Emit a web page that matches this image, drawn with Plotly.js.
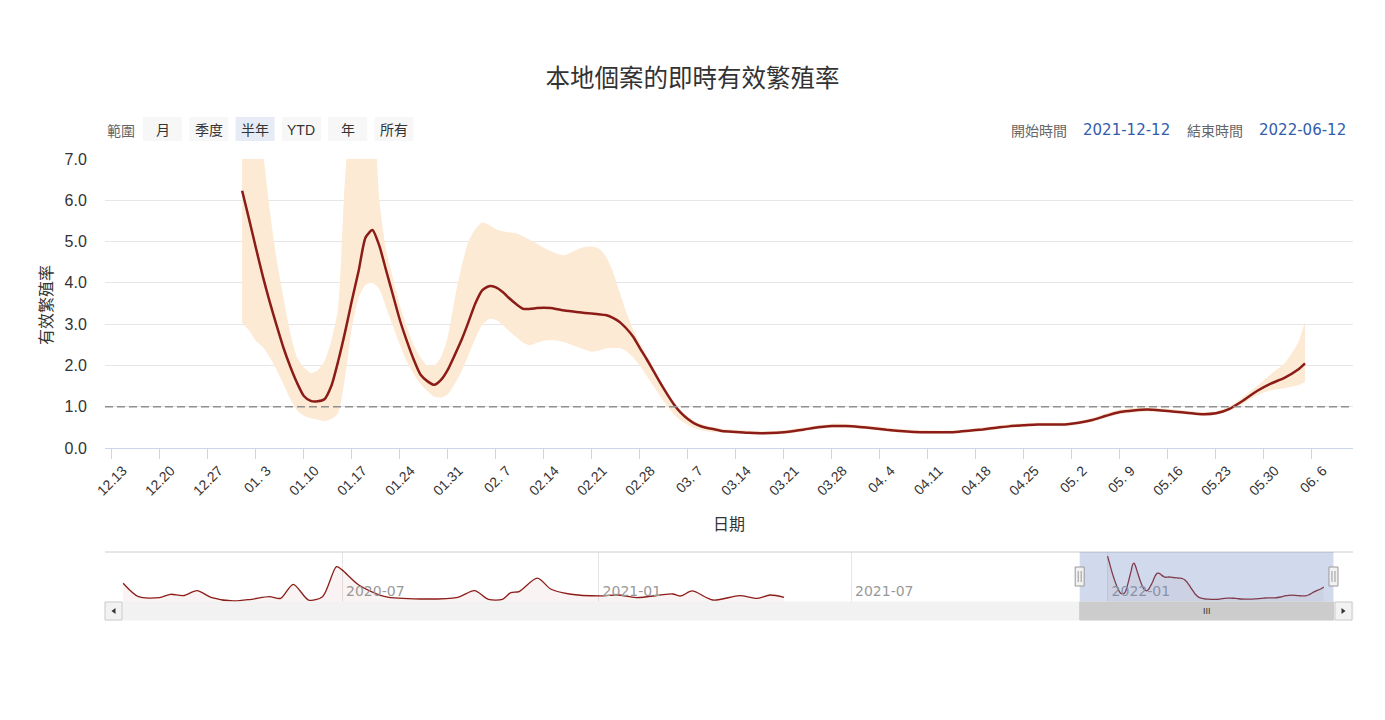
<!DOCTYPE html>
<html><head><meta charset="utf-8">
<script src="https://cdn.plot.ly/plotly-3.0.1.min.js"></script>
<style>html,body{margin:0;padding:0;background:#fff}#chart{width:1385px;height:720px}</style>
</head><body><div id="chart"></div><script>
// ---------- data ----------
const dates = [
 '2022-01-01','2022-01-02','2022-01-03','2022-01-04','2022-01-05','2022-01-06','2022-01-07','2022-01-08','2022-01-09','2022-01-10',
 '2022-01-11','2022-01-12','2022-01-13','2022-01-14','2022-01-15','2022-01-16','2022-01-17','2022-01-18','2022-01-19','2022-01-20',
 '2022-01-21','2022-01-22','2022-01-23','2022-01-24','2022-01-25','2022-01-26','2022-01-27','2022-01-28','2022-01-29','2022-01-30','2022-01-31',
 '2022-02-01','2022-02-02','2022-02-03','2022-02-04','2022-02-05','2022-02-06','2022-02-07','2022-02-08','2022-02-09','2022-02-10',
 '2022-02-11','2022-02-12','2022-02-13','2022-02-14','2022-02-15','2022-02-16','2022-02-17','2022-02-18','2022-02-19','2022-02-20',
 '2022-02-21','2022-02-22','2022-02-23','2022-02-24','2022-02-25','2022-02-26','2022-02-27','2022-02-28',
 '2022-03-01','2022-03-02','2022-03-03','2022-03-04','2022-03-05','2022-03-06','2022-03-07','2022-03-08','2022-03-09','2022-03-10','2022-03-11',
 '2022-03-12','2022-03-14','2022-03-16','2022-03-18','2022-03-20','2022-03-22','2022-03-24','2022-03-26','2022-03-28','2022-03-30',
 '2022-04-01','2022-04-03','2022-04-05','2022-04-07','2022-04-09','2022-04-11','2022-04-13','2022-04-15','2022-04-17','2022-04-19',
 '2022-04-21','2022-04-23','2022-04-25','2022-04-27','2022-04-29','2022-05-01','2022-05-03','2022-05-05','2022-05-07','2022-05-09',
 '2022-05-11','2022-05-13','2022-05-15','2022-05-17','2022-05-19','2022-05-21','2022-05-23','2022-05-25','2022-05-27','2022-05-29',
 '2022-05-31','2022-06-02','2022-06-04','2022-06-05'
];
const rt = [
 6.23,5.55,4.85,4.17,3.55,2.98,2.44,1.98,1.58,1.26,1.14,1.13,1.18,1.50,2.10,2.80,3.57,4.30,5.10,5.28,4.90,4.30,3.70,3.10,2.60,2.15,1.78,1.62,1.53,1.65,1.90,
 2.25,2.62,3.05,3.50,3.82,3.92,3.89,3.78,3.62,3.48,3.37,3.37,3.39,3.40,3.39,3.36,3.33,3.31,3.29,3.27,3.26,3.24,3.22,3.16,3.06,2.90,2.70,2.42,
 2.15,1.86,1.57,1.30,1.05,0.85,0.70,0.59,0.52,0.48,0.45,
 0.41,0.39,0.37,0.36,0.37,0.40,0.45,0.50,0.53,0.53,0.51,0.48,0.44,0.41,0.39,0.38,0.38,0.39,0.42,0.45,
 0.49,0.53,0.55,0.57,0.57,0.57,0.61,0.68,0.78,0.87,0.91,0.93,0.91,0.88,0.85,0.82,0.84,0.95,1.15,1.38,
 1.56,1.70,1.90,2.05
];
const rtLower = [
 3.03,2.85,2.60,2.45,2.20,1.90,1.55,1.20,0.92,0.78,0.72,0.69,0.65,0.70,0.85,1.70,2.90,3.65,3.95,4.00,3.85,3.40,2.95,2.50,2.10,1.80,1.55,1.38,1.24,1.22,1.30,
 1.55,1.85,2.25,2.65,2.98,3.12,3.10,2.98,2.82,2.68,2.55,2.49,2.55,2.60,2.61,2.60,2.56,2.50,2.44,2.38,2.33,2.36,2.41,2.42,2.42,2.35,2.20,2.00,
 1.75,1.50,1.25,1.02,0.82,0.66,0.56,0.48,0.43,0.40,0.38,
 0.37,0.35,0.33,0.32,0.33,0.36,0.41,0.46,0.49,0.49,0.47,0.44,0.40,0.37,0.35,0.34,0.34,0.35,0.38,0.41,
 0.45,0.49,0.51,0.53,0.53,0.53,0.57,0.63,0.73,0.82,0.86,0.88,0.87,0.84,0.81,0.78,0.80,0.90,1.08,1.28,
 1.40,1.45,1.52,1.59
];
const rtUpper = [
 8,8,8,7.2,5.8,4.6,3.66,2.80,2.20,1.95,1.82,1.88,2.10,2.60,3.40,6.50,8,8,8,8,6.0,4.79,4.10,3.45,2.94,2.50,2.20,2.00,2.00,2.20,2.70,
 3.60,4.40,5.00,5.30,5.46,5.40,5.30,5.25,5.22,5.20,5.12,5.04,4.95,4.85,4.77,4.70,4.67,4.74,4.82,4.87,4.88,4.83,4.65,4.30,3.80,3.30,2.88,2.55,
 2.25,1.95,1.62,1.35,1.10,0.90,0.76,0.65,0.58,0.53,0.50,
 0.46,0.44,0.42,0.41,0.42,0.45,0.50,0.55,0.59,0.58,0.56,0.53,0.49,0.46,0.44,0.43,0.42,0.43,0.46,0.50,
 0.54,0.58,0.60,0.61,0.61,0.61,0.65,0.73,0.84,0.93,0.97,0.98,0.96,0.93,0.90,0.87,0.89,1.01,1.24,1.50,
 1.78,2.05,2.55,3.07
];
// navigator: earlier history
const navDates = ['2020-01-26','2020-02-06','2020-02-21','2020-02-29','2020-03-09','2020-03-19','2020-03-29','2020-04-14','2020-04-27','2020-05-10',
 '2020-05-18','2020-05-27','2020-06-07','2020-06-17','2020-06-27','2020-07-01','2020-07-13','2020-08-01','2020-08-27','2020-09-22',
 '2020-10-04','2020-10-14','2020-10-24','2020-10-30','2020-11-05','2020-11-18','2020-11-28','2020-12-11','2021-01-02','2021-01-15',
 '2021-01-28','2021-02-23','2021-03-01','2021-03-09','2021-03-24','2021-04-12','2021-04-25','2021-05-04','2021-05-14'];
const navValues = [2.55,0.72,0.59,1.05,0.86,1.54,0.64,0.14,0.37,0.72,
 0.50,2.41,0.27,0.72,4.81,4.37,2.32,0.72,0.41,0.64,
 1.55,0.37,0.37,1.27,1.41,3.24,1.73,1.09,0.82,0.95,
 0.59,1.09,0.82,1.50,0.27,0.86,0.50,0.95,0.64];
const thresholdValue = 1.0;
const rangeButtons = ['月','季度','半年','YTD','年','所有'];
const selectedButton = 2;
const rangeStart = '2021-12-12', rangeEnd = '2022-06-12';
const navRange = ['2020-01-13','2022-06-26'];

// ---------- text ----------
const titleText = '本地個案的即時有效繁殖率';
const yTitle = '有效繁殖率', xTitle = '日期';

// ---------- layout helpers ----------
const W = 1385, H = 720, ML = 105, MR = 32, MT = 159, MB = 100;
const PW = W - ML - MR, PH = H - MT - MB;
const X = px => (px - ML) / PW;
const Y = py => (H - MB - py) / PH;
const FONT = "'Liberation Sans', Arial, 'Noto Sans CJK TC', sans-serif";
const CJK = "'Noto Sans CJK TC', 'Liberation Sans', sans-serif";
const lineColor = '#8c1c17';
const bandColor = 'rgb(252,234,212)';

const traces = [
  {x: dates, y: rtLower, type:'scatter', mode:'lines', line:{width:0, shape:'spline', smoothing:0.6}, hoverinfo:'skip', xaxis:'x', yaxis:'y'},
  {x: dates, y: rtUpper, type:'scatter', mode:'lines', fill:'tonexty', fillcolor: bandColor, line:{width:0, shape:'spline', smoothing:0.6}, hoverinfo:'skip', xaxis:'x', yaxis:'y'},
  {x: dates, y: rt, type:'scatter', mode:'lines', line:{color: lineColor, width:2.5, shape:'spline', smoothing:0.6}, xaxis:'x', yaxis:'y'},
  {x: navDates, y: navValues, type:'scatter', mode:'lines', fill:'tozeroy', fillcolor:'rgba(139,26,26,0.05)', line:{color: lineColor, width:1.3, shape:'spline', smoothing:0.8}, xaxis:'x2', yaxis:'y2'},
  {x: dates, y: rt, type:'scatter', mode:'lines', fill:'tozeroy', fillcolor:'rgba(139,26,26,0.05)', line:{color: lineColor, width:1.3, shape:'spline', smoothing:0.8}, xaxis:'x2', yaxis:'y2'}
];

const shapes = [
  {type:'line', xref:'x domain', x0:0, x1:1, yref:'y', y0:thresholdValue, y1:thresholdValue, line:{color:'#8f8f8f', width:1.5, dash:'8px,4px'}, layer:'above'},
  {type:'line', xref:'paper', x0:0, x1:1, yref:'paper', y0:Y(552), y1:Y(552), line:{color:'#cccccc', width:1}},
  {type:'rect', xref:'x2', x0:rangeStart, x1:rangeEnd, yref:'paper', y0:Y(602), y1:Y(552), fillcolor:'rgba(102,133,194,0.3)', line:{width:0}, layer:'above'},
  {type:'rect', xref:'paper', x0:0, x1:1, yref:'paper', y0:Y(620), y1:Y(602), fillcolor:'#f2f2f2', line:{color:'#f2f2f2', width:1}},
  {type:'rect', xref:'x2', x0:rangeStart, x1:rangeEnd, yref:'paper', y0:Y(620), y1:Y(602), fillcolor:'#cccccc', line:{color:'#cccccc', width:1}},
  {type:'rect', xref:'paper', x0:X(105), x1:X(122), yref:'paper', y0:Y(620), y1:Y(602), fillcolor:'#f2f2f2', line:{color:'#cccccc', width:1}},
  {type:'rect', xref:'paper', x0:X(1335), x1:X(1352), yref:'paper', y0:Y(620), y1:Y(602), fillcolor:'#f2f2f2', line:{color:'#cccccc', width:1}},
  {type:'path', xref:'paper', yref:'paper', path:`M ${X(111.5)} ${Y(611)} L ${X(115.5)} ${Y(608)} L ${X(115.5)} ${Y(614)} Z`, fillcolor:'#333', line:{width:0}},
  {type:'path', xref:'paper', yref:'paper', path:`M ${X(1345.5)} ${Y(611)} L ${X(1341.5)} ${Y(608)} L ${X(1341.5)} ${Y(614)} Z`, fillcolor:'#333', line:{width:0}}
];
[rangeStart, rangeEnd].forEach(d => {
  shapes.push({type:'rect', xref:'x2', xsizemode:'pixel', xanchor:d, x0:-4.5, x1:4.5, yref:'paper', y0:Y(586), y1:Y(567), fillcolor:'#f2f2f2', line:{color:'#999999', width:1}, layer:'above'});
  [-1.5, 1.5].forEach(o => shapes.push({type:'line', xref:'x2', xsizemode:'pixel', xanchor:d, x0:o, x1:o, yref:'paper', y0:Y(582), y1:Y(571), line:{color:'#999999', width:1}, layer:'above'}));
});
const annotations = [];
rangeButtons.forEach((b, i) => {
  const left = 143 + i * 46.3;
  shapes.push({type:'rect', xref:'paper', yref:'paper', x0:X(left), x1:X(left + 39), y0:Y(141), y1:Y(117), fillcolor: i === selectedButton ? '#e6ebf5' : '#f7f7f7', line:{width:0}});
  annotations.push({xref:'paper', yref:'paper', x:X(left + 19.5), y:Y(129.5), text:b, showarrow:false, xanchor:'center', yanchor:'middle', font:{family:FONT, size:14, color:'#333333'}});
});
annotations.push(
  {xref:'paper', yref:'paper', x:X(121), y:Y(129.5), text:'範圍', showarrow:false, xanchor:'center', yanchor:'middle', font:{family:CJK, size:14, color:'#666666'}},
  {xref:'paper', yref:'paper', x:X(1039), y:Y(129.5), text:'開始時間', showarrow:false, xanchor:'center', yanchor:'middle', font:{family:CJK, size:14, color:'#666666'}},
  {xref:'paper', yref:'paper', x:X(1126.5), y:Y(129.5), text:rangeStart, showarrow:false, xanchor:'center', yanchor:'middle', font:{family:"'DejaVu Sans', sans-serif", size:15, color:'#335cad'}},
  {xref:'paper', yref:'paper', x:X(1215), y:Y(129.5), text:'結束時間', showarrow:false, xanchor:'center', yanchor:'middle', font:{family:CJK, size:14, color:'#666666'}},
  {xref:'paper', yref:'paper', x:X(1302.5), y:Y(129.5), text:rangeEnd, showarrow:false, xanchor:'center', yanchor:'middle', font:{family:"'DejaVu Sans', sans-serif", size:15, color:'#335cad'}},
  {xref:'paper', yref:'paper', x:X(45), y:Y(305), text:yTitle, textangle:-90, showarrow:false, xanchor:'center', yanchor:'middle', font:{family:CJK, size:16, color:'#333333'}},
  {xref:'paper', yref:'paper', x:X(729), y:Y(523), text:xTitle, showarrow:false, xanchor:'center', yanchor:'middle', font:{family:CJK, size:16, color:'#333333'}},
  {xref:'x2', yref:'paper', x:'2022-03-13', y:Y(611), text:'III', showarrow:false, xanchor:'center', yanchor:'middle', font:{family:FONT, size:9, color:'#333333'}}
);

const layout = {
  width: W, height: H,
  margin: {l: ML, r: MR, t: MT, b: MB, pad: 0},
  paper_bgcolor: '#ffffff', plot_bgcolor: '#ffffff',
  showlegend: false, hovermode: false,
  font: {family: FONT, color: '#333333'},
  title: {text: titleText, xref:'container', x:0.5, xanchor:'center', yref:'container', y: 1 - 78/H, yanchor:'middle', font:{family:CJK, size:24.5, color:'#333333'}},
  xaxis: {type:'date', range:[rangeStart, rangeEnd], anchor:'y', domain:[0,1], tick0:'2021-12-13', dtick: 7*86400000, tickformat:'%m.%e', tickangle:-45,
          ticks:'outside', ticklen:10, tickcolor:'#ccd6eb', showline:true, linecolor:'#ccd6eb', linewidth:1, showgrid:false, zeroline:false,
          ticklabelshift: 11, ticklabelstandoff: -2,
          tickfont:{family:FONT, size:14, color:'#333333'}, fixedrange:true},
  yaxis: {range:[0,7], domain:[Y(448), 1], anchor:'x', dtick:1, tick0:0, tickformat:'.1f', gridcolor:'#e6e6e6', zeroline:false, showline:false,
          ticks:'outside', ticklen:14, tickcolor:'rgba(0,0,0,0)', tickfont:{family:FONT, size:16, color:'#333333'}, fixedrange:true},
  xaxis2: {type:'date', range:navRange, anchor:'y2', domain:[0,1], tick0:'2020-01-01', dtick:'M6', tickformat:'%Y-%m', ticklabelposition:'inside right',
           ticklabelshift: 4, ticklabelstandoff: -3,
           ticks:'', showgrid:true, gridcolor:'#e6e6e6', showline:false, zeroline:false, tickfont:{family:"'DejaVu Sans', sans-serif", size:14, color:'#999999'}, fixedrange:true},
  yaxis2: {range:[0,6.8], domain:[Y(602), Y(552)], anchor:'x2', visible:false, fixedrange:true},
  shapes: shapes,
  annotations: annotations
};
Plotly.newPlot('chart', traces, layout, {displayModeBar:false, staticPlot:true});
</script></body></html>
